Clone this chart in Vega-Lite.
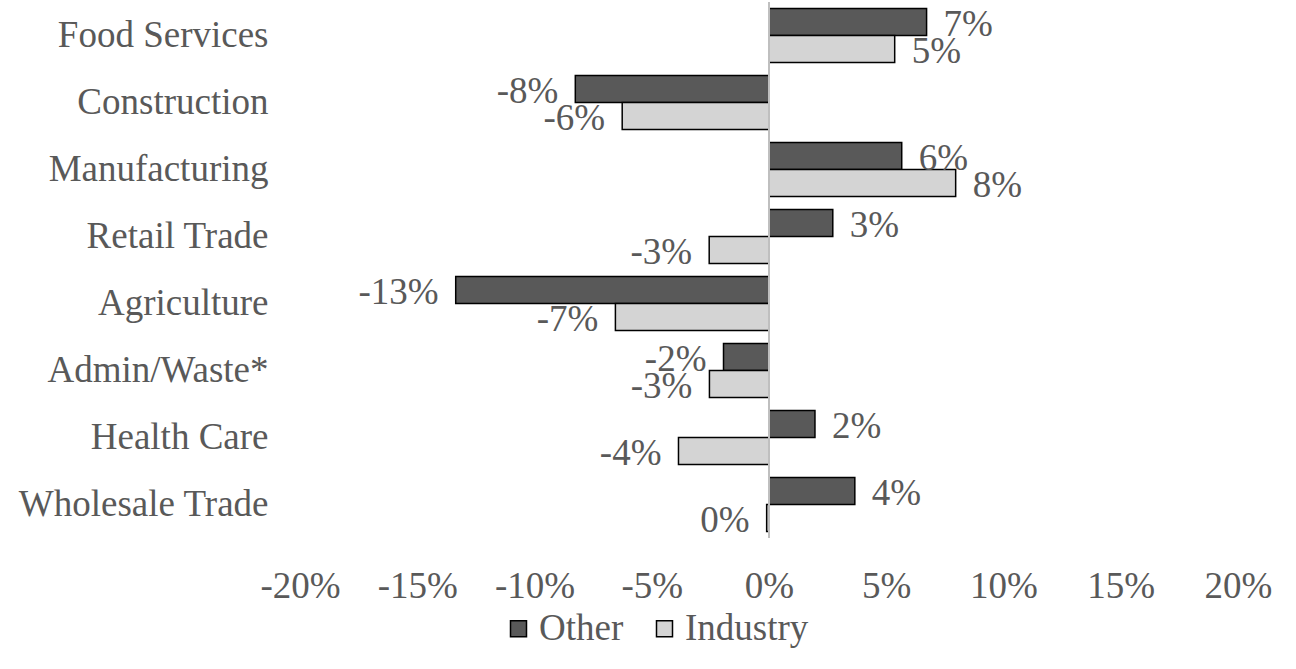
{
  "$schema": "https://vega.github.io/schema/vega-lite/v6.json",
  "width": 938,
  "height": 536,
  "autosize": "none",
  "padding": {"left": 300, "top": 2, "right": 58, "bottom": 131},
  "background": "white",
  "config": {"font": "Liberation Serif", "view": {"stroke": null}},
  "data": {
    "values": [
      {"sector": "Food Services", "series": "Other", "value": 6.72, "label": "7%"},
      {"sector": "Food Services", "series": "Industry", "value": 5.36, "label": "5%"},
      {"sector": "Construction", "series": "Other", "value": -8.26, "label": "-8%"},
      {"sector": "Construction", "series": "Industry", "value": -6.26, "label": "-6%"},
      {"sector": "Manufacturing", "series": "Other", "value": 5.66, "label": "6%"},
      {"sector": "Manufacturing", "series": "Industry", "value": 7.96, "label": "8%"},
      {"sector": "Retail Trade", "series": "Other", "value": 2.72, "label": "3%"},
      {"sector": "Retail Trade", "series": "Industry", "value": -2.55, "label": "-3%"},
      {"sector": "Agriculture", "series": "Other", "value": -13.36, "label": "-13%"},
      {"sector": "Agriculture", "series": "Industry", "value": -6.55, "label": "-7%"},
      {"sector": "Admin/Waste*", "series": "Other", "value": -1.94, "label": "-2%"},
      {"sector": "Admin/Waste*", "series": "Industry", "value": -2.54, "label": "-3%"},
      {"sector": "Health Care", "series": "Other", "value": 1.96, "label": "2%"},
      {"sector": "Health Care", "series": "Industry", "value": -3.86, "label": "-4%"},
      {"sector": "Wholesale Trade", "series": "Other", "value": 3.66, "label": "4%"},
      {"sector": "Wholesale Trade", "series": "Industry", "value": -0.1, "label": "0%"}
    ]
  },
  "layer": [
    {
      "mark": {"type": "bar", "stroke": "black", "strokeWidth": 1.5},
      "encoding": {
        "y": {
          "field": "sector", "type": "nominal",
          "sort": ["Food Services", "Construction", "Manufacturing", "Retail Trade", "Agriculture", "Admin/Waste*", "Health Care", "Wholesale Trade"],
          "scale": {"paddingInner": 0.194, "paddingOuter": 0.097},
          "axis": {"title": null, "domain": false, "ticks": false, "labelFontSize": 37, "labelColor": "#595959", "labelPadding": 32, "labelFont": "Liberation Serif", "labelLimit": 400}
        },
        "yOffset": {"field": "series", "sort": ["Other", "Industry"], "scale": {"paddingInner": 0, "paddingOuter": 0}},
        "x": {
          "field": "value", "type": "quantitative",
          "scale": {"domain": [-20, 20]},
          "axis": {"title": null, "domain": false, "ticks": false, "grid": false, "values": [-20, -15, -10, -5, 0, 5, 10, 15, 20], "labelExpr": "datum.value + '%'", "labelFontSize": 37, "labelColor": "#595959", "labelPadding": 30, "labelFlush": false, "labelOverlap": false, "labelBound": false, "labelFont": "Liberation Serif"}
        },
        "color": {
          "field": "series", "type": "nominal",
          "scale": {"domain": ["Other", "Industry"], "range": ["#595959", "#d4d4d4"]},
          "legend": {"orient": "none", "legendX": 200, "legendY": 608, "padding": 0, "direction": "horizontal", "title": null, "symbolType": "square", "symbolSize": 256, "symbolStrokeColor": "black", "symbolStrokeWidth": 1.5, "symbolOpacity": 1, "labelFont": "Liberation Serif", "labelFontSize": 37, "labelColor": "#595959", "labelOffset": 2, "columnPadding": 22}
        }
      }
    },
    {
      "mark": {"type": "rule", "color": "#bfbfbf", "strokeWidth": 2},
      "encoding": {"x": {"datum": 0}}
    },
    {
      "transform": [{"filter": "datum.value >= 0"}],
      "mark": {"type": "text", "align": "left", "baseline": "middle", "dx": 17, "dy": 3, "fontSize": 37, "color": "#595959"},
      "encoding": {
        "y": {"field": "sector", "type": "nominal", "sort": ["Food Services", "Construction", "Manufacturing", "Retail Trade", "Agriculture", "Admin/Waste*", "Health Care", "Wholesale Trade"]},
        "yOffset": {"field": "series", "sort": ["Other", "Industry"]},
        "x": {"field": "value", "type": "quantitative"},
        "text": {"field": "label"}
      }
    },
    {
      "transform": [{"filter": "datum.value < 0"}],
      "mark": {"type": "text", "align": "right", "baseline": "middle", "dx": -17, "dy": 3, "fontSize": 37, "color": "#595959"},
      "encoding": {
        "y": {"field": "sector", "type": "nominal", "sort": ["Food Services", "Construction", "Manufacturing", "Retail Trade", "Agriculture", "Admin/Waste*", "Health Care", "Wholesale Trade"]},
        "yOffset": {"field": "series", "sort": ["Other", "Industry"]},
        "x": {"field": "value", "type": "quantitative"},
        "text": {"field": "label"}
      }
    }
  ]
}
